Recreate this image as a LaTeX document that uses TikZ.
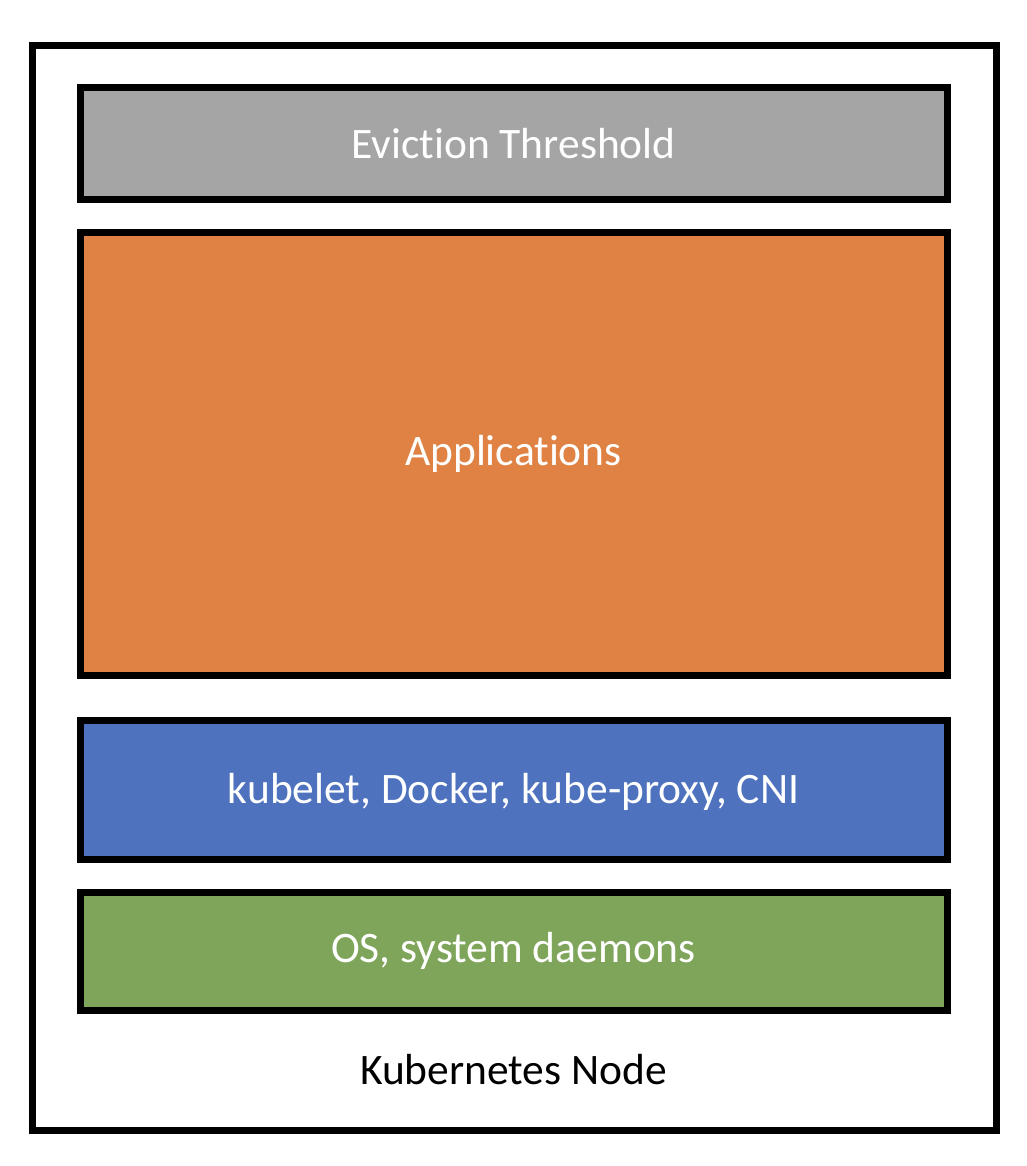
\documentclass[tikz,border=0pt]{standalone}
\usepackage{fontspec}
\setmainfont[Ligatures={NoCommon}]{Carlito}
\definecolor{evgray}{HTML}{A5A5A5}
\definecolor{apporange}{HTML}{DF8244}
\definecolor{kblue}{HTML}{4E72BE}
\definecolor{osgreen}{HTML}{7FA55B}
\begin{document}
\begin{tikzpicture}[x=1pt,y=-1pt,
  layer/.style={draw=black,line width=7pt},
  lbl/.style={font=\fontsize{43.5}{48}\selectfont,text=white}]
\useasboundingbox (0,0) rectangle (1026,1166);
\fill[white] (0,0) rectangle (1026,1166);
\draw[line width=7pt] (32,46) rectangle (996,1130);
\draw[layer,fill=evgray] (80,88) rectangle (947.5,199.5);
\draw[layer,fill=apporange] (80,233) rectangle (947.5,675.5);
\draw[layer,fill=kblue] (80,720) rectangle (947.5,859.5);
\draw[layer,fill=osgreen] (80,892.5) rectangle (947.5,1010);
\node[lbl] (ev) at (513.5,144) {Eviction Threshold};
\node[lbl] (app) at (513.5,454) {Applications};
\node[lbl] (kub) at (513.5,792) {kubelet, Docker, kube-proxy, CNI};
\node[lbl] (os) at (513.5,951) {OS, system daemons};
\node[font=\fontsize{43.5}{48}\selectfont] (kn) at (513.5,1070) {Kubernetes Node};
\end{tikzpicture}
\end{document}
